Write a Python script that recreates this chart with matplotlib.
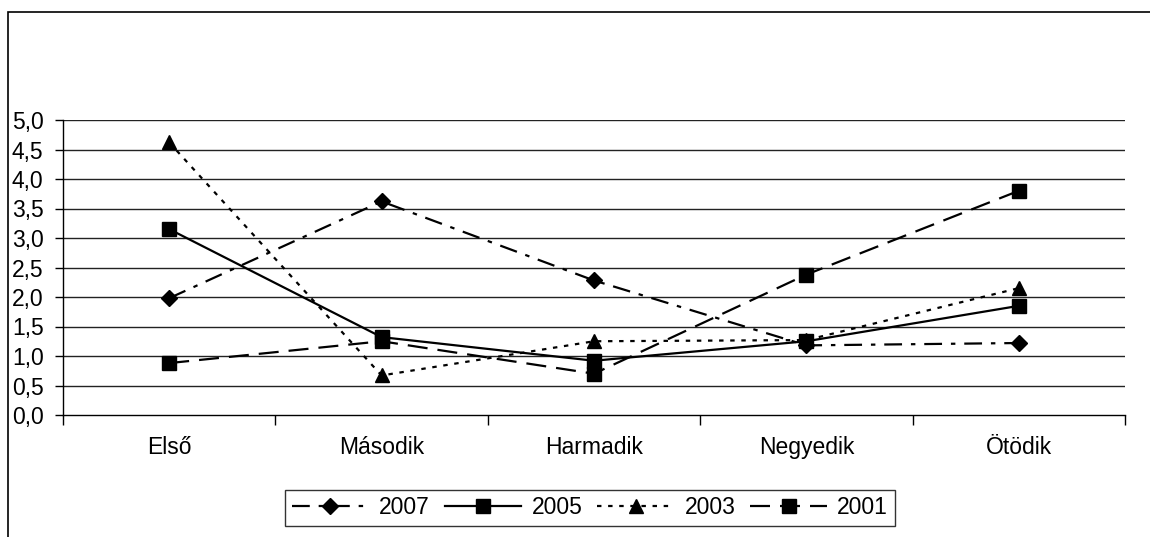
import numpy as np
import matplotlib.pyplot as plt
from matplotlib.patches import Rectangle
from matplotlib.ticker import FuncFormatter

plt.rcParams['font.family'] = ['Liberation Sans', 'DejaVu Sans']

# categories and series
categories = ['Első', 'Második', 'Harmadik', 'Negyedik', 'Ötödik']
v2007 = [1.98, 3.62, 2.28, 1.18, 1.22]
v2005 = [3.15, 1.32, 0.92, 1.25, 1.85]
v2003 = [4.62, 0.67, 1.25, 1.27, 2.15]
v2001 = [0.88, 1.25, 0.70, 2.38, 3.80]

fs = 16.5

fig = plt.figure(figsize=(11.5, 5.37), dpi=100)
ax = fig.add_axes([63 / 1150, 1 - 415 / 537, 1062 / 1150, 295 / 537])

# outer chart frame (cropped at right and bottom)
fig.patches.append(Rectangle((8 / 1150, -0.1), 1.2, 0.1 + 1 - 12 / 537,
                             transform=fig.transFigure, fill=False,
                             edgecolor='black', lw=1.2))

x = np.arange(len(categories))

for y in np.arange(0.5, 5.01, 0.5):
    ax.axhline(y, color='#222222', lw=1, zorder=1)

ax.plot(x, v2007, color='black', lw=1.6, marker='D', ms=8.5,
        dashes=(8, 4, 2, 4), label='2007', zorder=3)
ax.plot(x, v2005, color='black', lw=1.6, marker='s', ms=10.5,
        linestyle='-', label='2005', zorder=3)
ax.plot(x, v2003, color='black', lw=1.6, marker='^', ms=10.5,
        dashes=(2, 3), label='2003', zorder=3)
ax.plot(x, v2001, color='black', lw=1.6, marker='s', ms=10.5,
        dashes=(9, 4.5), label='2001', zorder=3)

ax.set_xlim(-0.5, 4.5)
ax.set_ylim(0, 5)
ax.set_yticks(np.arange(0, 5.01, 0.5))
ax.yaxis.set_major_formatter(FuncFormatter(lambda v, p: f'{v:.1f}'.replace('.', ',')))

ax.set_xticks(np.arange(-0.5, 4.6, 1.0))
ax.set_xticklabels([])
ax.set_xticks(x, minor=True)
ax.set_xticklabels(categories, minor=True)
ax.tick_params(axis='x', which='minor', length=0, pad=15, labelsize=fs)
ax.tick_params(axis='x', which='major', length=7, width=1, direction='out')
ax.tick_params(axis='y', length=6, width=1, labelsize=fs, pad=8)

for s in ['top', 'right']:
    ax.spines[s].set_visible(False)
ax.spines['left'].set_linewidth(1)
ax.spines['bottom'].set_linewidth(1)

leg = ax.legend(loc='center', bbox_to_anchor=(590 / 1150, 1 - 508 / 537),
                bbox_transform=fig.transFigure, ncol=4, fontsize=fs,
                frameon=True, fancybox=False, handlelength=3.35,
                columnspacing=0.65, handletextpad=0.45, borderpad=0.3,
                borderaxespad=0)
leg.get_frame().set_edgecolor('black')
leg.get_frame().set_linewidth(1)

fig.savefig('out.png', dpi=100)
